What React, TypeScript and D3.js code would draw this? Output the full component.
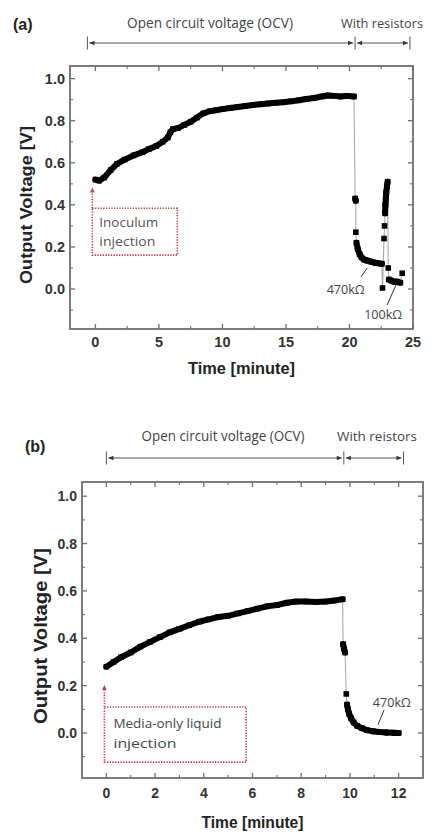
import React from "react";
import * as d3 from "d3";

// shared voltage axis
const Y_DOMAIN = [-0.19, 1.06];
const Y_TICKS = [0, 0.2, 0.4, 0.6, 0.8, 1.0];
const Y_MINOR = [-0.1, 0.1, 0.3, 0.5, 0.7, 0.9];

// (a) inoculum injection
const X_TICKS_A = [0, 5, 10, 15, 20, 25];
const X_MINOR_A = [2.5, 7.5, 12.5, 17.5, 22.5];
const ocvTimeA = [0, 0.3, 0.7, 1.2, 1.7, 2.3, 3, 3.7, 4.2, 4.8, 5.3, 5.7, 5.9, 6.1, 6.5, 7, 7.5, 8, 8.5, 9, 9.5, 10, 10.6, 11.2, 11.8, 12.4, 13, 13.6, 14.2, 14.8, 15.4, 16, 16.6, 17.2, 17.8, 18.3, 18.8, 19.3, 19.8, 20.35];
const ocvVoltA = [0.52, 0.515, 0.53, 0.565, 0.595, 0.615, 0.635, 0.65, 0.665, 0.68, 0.7, 0.72, 0.745, 0.76, 0.765, 0.78, 0.795, 0.815, 0.835, 0.845, 0.85, 0.855, 0.86, 0.865, 0.87, 0.875, 0.878, 0.882, 0.885, 0.888, 0.892, 0.897, 0.903, 0.908, 0.915, 0.92, 0.918, 0.915, 0.918, 0.915];
const loadTimeA = [20.45, 20.5, 20.5, 20.55, 20.65, 20.8, 20.95, 21.15, 21.4, 21.7, 22.0, 22.3, 22.55, 22.6, 22.72, 22.76, 22.8, 22.83, 22.86, 22.9, 22.95, 23.0, 23.05, 23.1, 23.3, 23.5, 23.75, 24.0, 24.15];
const loadVoltA = [0.43, 0.42, 0.27, 0.22, 0.19, 0.165, 0.15, 0.14, 0.135, 0.13, 0.125, 0.122, 0.12, 0.005, 0.24, 0.3, 0.36, 0.4, 0.43, 0.46, 0.49, 0.51, 0.1, 0.045, 0.04, 0.035, 0.035, 0.03, 0.075];

// (b) media-only liquid injection
const X_TICKS_B = [0, 2, 4, 6, 8, 10, 12];
const X_MINOR_B = [1, 3, 5, 7, 9, 11];
const ocvTimeB = [0, 0.3, 0.6, 1, 1.4, 1.8, 2.2, 2.6, 3, 3.4, 3.8, 4.2, 4.6, 5, 5.4, 5.8, 6.2, 6.6, 7, 7.4, 7.8, 8.2, 8.6, 9, 9.4, 9.7];
const ocvVoltB = [0.28, 0.3, 0.32, 0.34, 0.365, 0.385, 0.405, 0.425, 0.44, 0.455, 0.47, 0.48, 0.49, 0.495, 0.505, 0.515, 0.525, 0.535, 0.54, 0.55, 0.555, 0.555, 0.553, 0.555, 0.56, 0.565];
const loadTimeB = [9.72, 9.76, 9.8, 9.85, 9.88, 9.92, 9.97, 10.05, 10.15, 10.3, 10.5, 10.7, 10.95, 11.2, 11.5, 11.8, 12.0];
const loadVoltB = [0.375, 0.355, 0.34, 0.165, 0.12, 0.1, 0.08, 0.062, 0.045, 0.03, 0.02, 0.012, 0.007, 0.004, 0.002, 0.001, 0.0];

const BOLD = "'Liberation Sans', Arial, sans-serif";
const SOFT = "'Open Sans', 'Noto Sans', sans-serif";
const RED = "#cc3846";
const FRAME = "#6f6f6f";

function Arrowhead({ x, y, dir, color }) {
  // dir: "l" | "r" | "u"
  let pts;
  if (dir === "l") pts = [[x, y], [x + 5, y - 2.2], [x + 5, y + 2.2]];
  else if (dir === "r") pts = [[x, y], [x - 5, y - 2.2], [x - 5, y + 2.2]];
  else pts = [[x, y], [x - 2.3, y + 5], [x + 2.3, y + 5]];
  return <polygon points={pts.map(p => p.join(",")).join(" ")} fill={color} />;
}

function Panel(p) {
  const { box } = p;
  const x = d3.scaleLinear().domain(p.xDomain).range([box.left, box.right]);
  const y = d3.scaleLinear().domain(Y_DOMAIN).range([box.bottom, box.top]);

  const allT = p.ocvT.concat(p.loadT);
  const allV = p.ocvV.concat(p.loadV);
  const pts = allT.map((t, i) => [x(t), y(allV[i])]);
  const line = d3.line();

  const ocvPts = p.ocvT.map((t, i) => [x(t), y(p.ocvV[i])]);
  const loadPts = p.loadT.map((t, i) => [x(t), y(p.loadV[i])]);
  // dense runs under load look like a solid band
  const runs = [];
  for (let i = 1; i < loadPts.length; i++) {
    const [x0, y0] = loadPts[i - 1];
    const [x1, y1] = loadPts[i];
    if (Math.hypot(x1 - x0, y1 - y0) < 8.5) runs.push([loadPts[i - 1], loadPts[i]]);
  }

  const hy = p.header.arrowY;
  const bars = p.header.bars.map(t => x(t));

  const boxL = x(p.note.t0), boxR = x(p.note.t1), boxT = y(p.note.v0), boxB = y(p.note.v1);
  const tipY = y(p.note.tip);

  return (
    <g>
      {/* header */}
      <text x={p.header.tagX} y={p.header.tagY} fontFamily={BOLD} fontWeight="bold" fontSize={16} fill="#222">{p.header.tag}</text>
      <text x={p.header.ocvX} y={p.header.textY} textAnchor="middle" fontFamily={SOFT} fontSize={14} fill="#444"
        textLength={p.header.ocvLen} lengthAdjust="spacingAndGlyphs">Open circuit voltage (OCV)</text>
      <text x={p.header.resX} y={p.header.textY} textAnchor="middle" fontFamily={SOFT} fontSize={12.5} fill="#444"
        textLength={p.header.resLen} lengthAdjust="spacingAndGlyphs">{p.header.resText}</text>
      {bars.map((bx, i) => (
        <line key={"b" + i} x1={bx} x2={bx} y1={hy - 6.5} y2={hy + 6.5} stroke="#555" strokeWidth={1} />
      ))}
      {[0, 1].map(i => (
        <g key={"a" + i}>
          <line x1={bars[i] + 2} x2={bars[i + 1] - 2} y1={hy} y2={hy} stroke="#555" strokeWidth={1} />
          <Arrowhead x={bars[i] + 2} y={hy} dir="l" color="#333" />
          <Arrowhead x={bars[i + 1] - 2} y={hy} dir="r" color="#333" />
        </g>
      ))}

      {/* frame & ticks */}
      <rect x={box.left} y={box.top} width={box.right - box.left} height={box.bottom - box.top}
        fill="none" stroke={FRAME} strokeWidth={1.8} />
      {p.xTicks.map(t => (
        <g key={"xt" + t}>
          <line x1={x(t)} x2={x(t)} y1={box.bottom} y2={box.bottom - 5} stroke={FRAME} strokeWidth={1.3} />
          <line x1={x(t)} x2={x(t)} y1={box.top} y2={box.top + 5} stroke={FRAME} strokeWidth={1.3} />
          <text x={x(t)} y={p.xLabelY} textAnchor="middle" fontFamily={BOLD} fontWeight="bold"
            fontSize={p.tickFont} fill="#333">{t}</text>
        </g>
      ))}
      {p.xMinor.map(t => (
        <g key={"xm" + t}>
          <line x1={x(t)} x2={x(t)} y1={box.bottom} y2={box.bottom - 3} stroke={FRAME} strokeWidth={1.1} />
          <line x1={x(t)} x2={x(t)} y1={box.top} y2={box.top + 3} stroke={FRAME} strokeWidth={1.1} />
        </g>
      ))}
      {Y_TICKS.map(v => (
        <g key={"yt" + v}>
          <line x1={box.left} x2={box.left + 5} y1={y(v)} y2={y(v)} stroke={FRAME} strokeWidth={1.3} />
          <line x1={box.right} x2={box.right - 5} y1={y(v)} y2={y(v)} stroke={FRAME} strokeWidth={1.3} />
          <text x={box.left - 5} y={y(v) + 5} textAnchor="end" fontFamily={BOLD} fontWeight="bold"
            fontSize={p.tickFont} fill="#333">{v.toFixed(1)}</text>
        </g>
      ))}
      {Y_MINOR.map(v => (
        <g key={"ym" + v}>
          <line x1={box.left} x2={box.left + 3} y1={y(v)} y2={y(v)} stroke={FRAME} strokeWidth={1.1} />
          <line x1={box.right} x2={box.right - 3} y1={y(v)} y2={y(v)} stroke={FRAME} strokeWidth={1.1} />
        </g>
      ))}

      {/* axis titles */}
      <text x={(box.left + box.right) / 2} y={p.xTitleY} textAnchor="middle" fontFamily={BOLD} fontWeight="bold"
        fontSize={16} fill="#222" textLength={p.xTitleLen} lengthAdjust="spacingAndGlyphs">Time [minute]</text>
      <text transform={`translate(${p.yTitle[0]},${p.yTitle[1]}) rotate(-90)`} textAnchor="middle"
        dominantBaseline="central" fontFamily={BOLD} fontWeight="bold" fontSize={p.yTitleFont} fill="#222"
        textLength={p.yTitleLen} lengthAdjust="spacingAndGlyphs">Output Voltage [V]</text>

      {/* data */}
      <path d={line(pts)} fill="none" stroke="#8a8a8a" strokeWidth={0.8} />
      <path d={line(ocvPts)} fill="none" stroke="#000" strokeWidth={6} strokeLinejoin="round" strokeLinecap="round" />
      {runs.map((r, i) => (
        <path key={"r" + i} d={line(r)} fill="none" stroke="#000" strokeWidth={6} strokeLinecap="round" />
      ))}
      {pts.map(([px, py], i) => (
        <rect key={"p" + i} x={px - 2.8} y={py - 2.8} width={5.6} height={5.6} fill="#000" />
      ))}

      {/* injection note */}
      <rect x={boxL} y={boxT} width={boxR - boxL} height={boxB - boxT} fill="none" stroke={RED}
        strokeWidth={1.6} strokeDasharray="1.3 1.4" />
      <line x1={boxL} x2={boxL} y1={boxT} y2={tipY + 4} stroke={RED} strokeWidth={1.6} strokeDasharray="1.3 1.4" />
      <Arrowhead x={boxL} y={tipY} dir="u" color={RED} />
      {p.note.lines.map((s, i) => (
        <text key={"n" + i} x={boxL + p.note.dx} y={boxT + p.note.dy[i]} fontFamily={SOFT} fontSize={13.5}
          fill={p.note.color} textLength={p.note.lens[i]} lengthAdjust="spacingAndGlyphs">{s}</text>
      ))}

      {/* resistor labels */}
      {p.loads.map((l, i) => (
        <g key={"l" + i}>
          <text x={x(l.t)} y={y(l.v)} textAnchor="middle" fontFamily={SOFT} fontSize={12.5} fill="#444"
            textLength={38} lengthAdjust="spacingAndGlyphs">{l.text}</text>
          <line x1={x(l.lead[0])} y1={y(l.lead[1])} x2={x(l.lead[2])} y2={y(l.lead[3])} stroke="#333" strokeWidth={1} />
        </g>
      ))}
    </g>
  );
}

export default function App() {
  return (
    <svg width={430} height={837} style={{ position: "absolute", left: 0, top: 0, background: "#fff" }}>
      <Panel
        box={{ left: 70, right: 413, top: 66, bottom: 329 }}
        xDomain={[-2, 25]} xTicks={X_TICKS_A} xMinor={X_MINOR_A}
        ocvT={ocvTimeA} ocvV={ocvVoltA} loadT={loadTimeA} loadV={loadVoltA}
        tickFont={14.5} xLabelY={347} xTitleY={374} xTitleLen={107}
        yTitle={[26, 205]} yTitleFont={17} yTitleLen={158}
        header={{ tag: "(a)", tagX: 13, tagY: 30, textY: 28, ocvX: 210, ocvLen: 166, resX: 382, resLen: 82,
          resText: "With resistors", arrowY: 43, bars: [-0.63, 20.44, 24.76] }}
        note={{ t0: -0.24, t1: 6.45, v0: 0.384, v1: 0.161, tip: 0.483, dx: 7, dy: [19, 38],
          lines: ["Inoculum", "injection"], lens: [59, 56], color: "#555" }}
        loads={[
          { text: "470kΩ", t: 19.7, v: -0.022, lead: [20.9, 0.057, 21.4, 0.1] },
          { text: "100kΩ", t: 22.65, v: -0.142, lead: [22.96, -0.076, 23.66, 0.019] },
        ]}
      />
      <Panel
        box={{ left: 82, right: 423, top: 482, bottom: 778 }}
        xDomain={[-1, 13]} xTicks={X_TICKS_B} xMinor={X_MINOR_B}
        ocvT={ocvTimeB} ocvV={ocvVoltB} loadT={loadTimeB} loadV={loadVoltB}
        tickFont={14} xLabelY={798} xTitleY={828} xTitleLen={102}
        yTitle={[41, 636]} yTitleFont={18} yTitleLen={176}
        header={{ tag: "(b)", tagX: 25, tagY: 452, textY: 441, ocvX: 223, ocvLen: 163, resX: 377, resLen: 80,
          resText: "With reistors", arrowY: 458, bars: [0, 9.75, 12.2] }}
        note={{ t0: -0.08, t1: 5.74, v0: 0.11, v1: -0.123, tip: 0.203, dx: 9, dy: [21, 41],
          lines: ["Media-only liquid", "injection"], lens: [108, 63], color: "#3d4a44" }}
        loads={[
          { text: "470kΩ", t: 11.72, v: 0.11, lead: [11.4, 0.097, 11.15, 0.034] },
        ]}
      />
    </svg>
  );
}
